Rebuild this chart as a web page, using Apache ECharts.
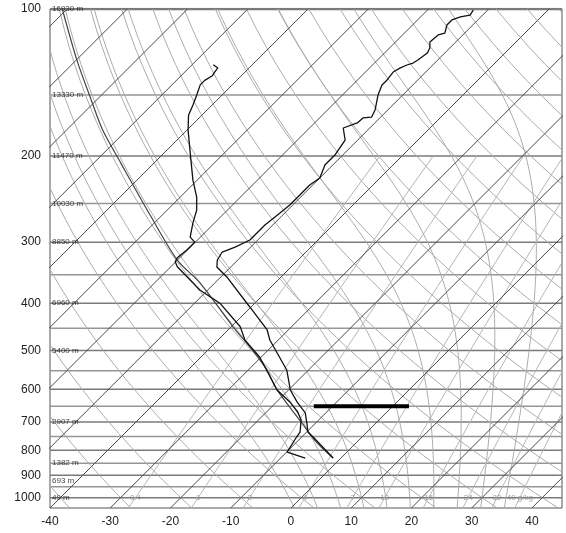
<!DOCTYPE html>
<html><head><meta charset="utf-8">
<script src="https://cdn.jsdelivr.net/npm/echarts@6/dist/echarts.min.js"></script>
<style>html,body{margin:0;padding:0;background:#fff}#c{width:566px;height:533px}</style>
</head><body><div id="c"></div>
<script>
// ---- axis ticks / labels ----
const pressureTicks = [100,200,300,400,500,600,700,800,900,1000];
const tempTicks = [-40,-30,-20,-10,0,10,20,30,40];
const isobars = [100,150,200,250,300,350,400,450,500,550,600,650,700,750,800,850,900,950,1000];
const heightLevels = [100,150,200,250,300,400,500,700,850,925,1000];
const heightLabels = ['16930 m','13330 m','11470 m','10030 m','8850 m','6960 m','5400 m','2907 m','1382 m','693 m','49 m'];
const mixingRatios = [0.4,1,2,4,7,10,16,24,32,40];
const mixingLabels = ['0.4','1','2','4','7','10','16','24','32','40 g/kg'];
const moistThetaW = [-2,2,6,10,14,18,22,26,30,34];
// ---- sounding ----
const tempP = [100.5,102.9,103.8,105.3,107.8,112,113,116.8,120.2,123,127.2,129,130.2,132,134.6,139.7,143.1,150,161,166.4,167.1,171.1,175.2,185.4,199,208.6,221.7,229.2,240.2,251.8,261.5,276.7,297,307,314.3,326.3,337.3,353.5,407.2,453.8,475.7,548,602,637,671,710,734,751.5,829.5];
const tempT = [-52.4,-52.1,-53.4,-54.3,-54.3,-53.3,-54.1,-54.3,-53.3,-52.9,-53.3,-53.6,-54.3,-54.9,-55.4,-55.1,-55.1,-54.1,-52.1,-51.5,-52.8,-52.9,-54.4,-52.1,-51.3,-51.3,-50.0,-50.5,-50.5,-50.5,-50.8,-51.3,-51.3,-52.6,-53.9,-53.4,-52.3,-49.0,-40.2,-33.5,-31.4,-23.6,-19.7,-16.6,-13.4,-11.1,-9.8,-8.1,-1.3];
const dewP = [130,132,135,137,140,143,150,157,165,177,201,224,243,258,274,293,300,311,323,329,337,376,400,447,476,516,602,637,668,694,734,755,807,830];
const dewT = [-86.5,-85.2,-85.0,-84.8,-85.3,-85.3,-84.2,-83.2,-82.2,-79.8,-74.9,-70.7,-67.2,-65.1,-63.6,-61.7,-60.1,-60.1,-60.4,-60.1,-58.9,-51.3,-45.8,-38.5,-35.5,-30.2,-21.9,-17.8,-14.8,-12.9,-11.1,-10.8,-9.9,-5.9];
const parcelP = [830,770,700,602,548,492,447,364,326,266.5,206.7,176.9,153.5,127.2,100];
const parcelT = [-1.3,-6.7,-12.6,-21.9,-26.9,-33.5,-39.7,-52.4,-60.1,-71.5,-85.5,-94.0,-100.9,-109.9,-120.8];
const barLevel = 650;
const barTemps = [-13.1, 2.7];

// ---- geometry ----
const P_TOP = 100, P_BOT = 1050, T_MIN = -40, T_MAX = 45;
const G = {left:50, right:4, top:9, bottom:25};
const plotW = 566 - G.left - G.right, plotH = 533 - G.top - G.bottom;
const K = (plotH / Math.log(P_BOT/P_TOP)) / (plotW / (T_MAX - T_MIN)); // 45 deg skew
const sx = (T, p) => T + K * Math.log(P_BOT / p);
const pt = (T, p) => [sx(T, p), Math.log(p)];

// thermodynamics for background lines
const es = Tc => 6.112 * Math.exp(17.67 * Tc / (Tc + 243.5));
const tdFromW = (w, p) => { const e = w * p / (622 + w); const l = Math.log(e / 6.112); return 243.5 * l / (17.67 - l); };
function moistCurve(twC) {
  const Rd = 287.04, Cp = 1005.7, Lv = 2.501e6, eps = 0.622;
  const f = (p, T) => { const e = es(T - 273.15); const rs = eps * e / (p - e);
    return (Rd * T + Lv * rs) / (p * (Cp + Lv * Lv * rs * eps / (Rd * T * T))); };
  const out = [];
  let T = twC + 273.15, p = 1000;
  const lower = [];
  for (; p < P_BOT; ) { const h = Math.min(5, P_BOT - p);
    const k1 = f(p, T), k2 = f(p + h/2, T + h/2*k1), k3 = f(p + h/2, T + h/2*k2), k4 = f(p + h, T + h*k3);
    T += h/6*(k1 + 2*k2 + 2*k3 + k4); p += h; lower.push(pt(T - 273.15, p)); }
  lower.reverse().forEach(d => out.push(d));
  T = twC + 273.15; p = 1000; out.push(pt(twC, 1000));
  while (p > P_TOP) { const h = -5;
    const k1 = f(p, T), k2 = f(p + h/2, T + h/2*k1), k3 = f(p + h/2, T + h/2*k2), k4 = f(p + h, T + h*k3);
    T += h/6*(k1 + 2*k2 + 2*k3 + k4); p += h; out.push(pt(T - 273.15, p)); }
  return out;
}

const series = [];
const base = {type:'line', symbol:'none', silent:true, animation:false, clip:true, z:1};
isobars.forEach(p => {
  const major = pressureTicks.includes(p);
  series.push(Object.assign({}, base, {data:[[T_MIN, Math.log(p)], [T_MAX, Math.log(p)]],
    lineStyle:{color: major ? '#7a7a7a' : '#969696', width: p === 100 ? 2.5 : 1.5}}));
});
for (let T = -130; T <= 40; T += 10) {
  series.push(Object.assign({}, base, {data:[pt(T, P_BOT), pt(T, P_TOP)], lineStyle:{color:'#4a4a4a', width:1}, z:2}));
}
for (let th = -40; th <= 190; th += 10) {
  const d = [];
  for (let p = P_BOT; p >= P_TOP; p -= 10) d.push(pt((th + 273.15) * Math.pow(p / 1000, 0.2857) - 273.15, p));
  series.push(Object.assign({}, base, {data:d, lineStyle:{color:'#ababab', width:1}}));
}
moistThetaW.forEach(tw => {
  series.push(Object.assign({}, base, {data:moistCurve(tw), lineStyle:{color:'#ababab', width:1}}));
});
mixingRatios.forEach(w => {
  const d = [];
  for (let p = P_BOT; p >= 200; p -= 10) d.push(pt(tdFromW(w, p), p));
  series.push(Object.assign({}, base, {data:d, lineStyle:{color:'#b4b4b4', width:1}}));
});
series.push({type:'scatter', silent:true, animation:false, symbolSize:0, z:5,
  data: mixingRatios.map((w, i) => ({value: pt(tdFromW(w, 1000), 1000), label:{formatter: mixingLabels[i]}})),
  label:{show:true, position:'inside', color:'#8a8a8a', fontSize:8, fontFamily:'Liberation Sans'}});
series.push({type:'scatter', silent:true, animation:false, symbolSize:0, z:5,
  data: heightLevels.map((p, i) => ({value:[T_MIN, Math.log(p)], label:{formatter: heightLabels[i]}})),
  label:{show:true, position:'right', distance:2, color:'#111', fontSize:8, fontFamily:'Liberation Sans'}});
series.push({type:'line', symbol:'none', silent:true, animation:false, z:6, smooth:0.3,
  data: parcelP.map((p, i) => pt(parcelT[i], p)), lineStyle:{color:'#444', width:1.2}});
series.push({type:'line', symbol:'none', silent:true, animation:false, z:7,
  data: dewP.map((p, i) => pt(dewT[i], p)), lineStyle:{color:'#111', width:1.3}});
series.push({type:'line', symbol:'none', silent:true, animation:false, z:7,
  data: tempP.map((p, i) => pt(tempT[i], p)), lineStyle:{color:'#111', width:1.3}});
series.push({type:'line', symbol:'none', silent:true, animation:false, z:8,
  data: barTemps.map(T => pt(T, barLevel)), lineStyle:{color:'#000', width:4}});

const chart = echarts.init(document.getElementById('c'), null, {renderer:'canvas'});
chart.setOption({
  backgroundColor:'#fff', animation:false,
  grid:{left:G.left, right:G.right, top:G.top, bottom:G.bottom, show:true, borderColor:'#555', borderWidth:1, backgroundColor:'transparent'},
  xAxis:{type:'value', min:T_MIN, max:T_MAX, interval:10,
    axisLine:{show:false}, axisTick:{show:false}, splitLine:{show:false},
    axisLabel:{customValues: tempTicks, color:'#222', fontSize:12, margin:8, fontFamily:'Liberation Sans'}},
  yAxis:{type:'value', inverse:true, min:Math.log(P_TOP), max:Math.log(P_BOT),
    axisLine:{show:false}, axisTick:{show:false}, splitLine:{show:false},
    axisLabel:{customValues: pressureTicks.map(p => Math.log(p)), formatter: v => String(Math.round(Math.exp(v))),
      color:'#222', fontSize:12, margin:9, fontFamily:'Liberation Sans'}},
  series
});
</script></body></html>
